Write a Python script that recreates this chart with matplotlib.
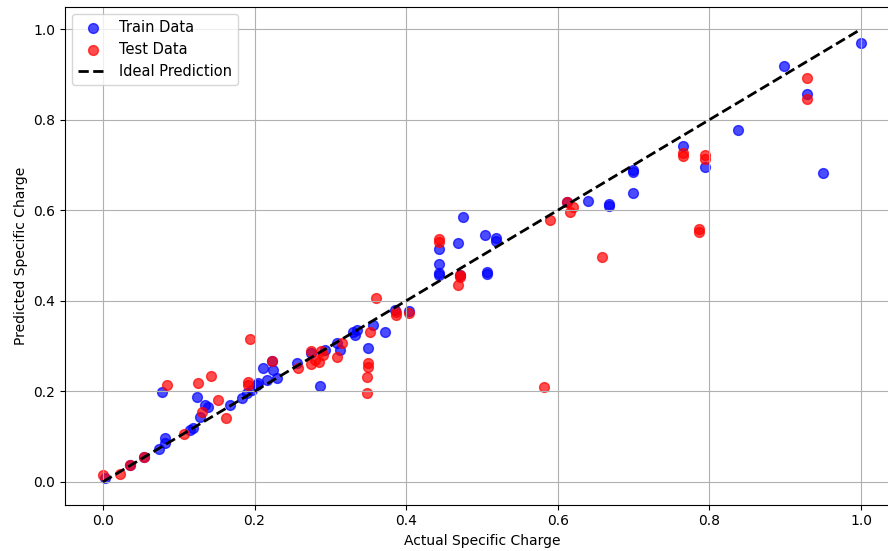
import numpy as np
import matplotlib
matplotlib.use('Agg')
import matplotlib.pyplot as plt

# train points (actual, predicted)
train_x = [0.003, 0.036, 0.054, 0.074, 0.082, 0.082, 0.115, 0.119, 0.078, 0.124,
           0.135, 0.139, 0.128, 0.168, 0.183, 0.19, 0.197, 0.204, 0.211, 0.224,
           0.23, 0.216, 0.203, 0.256, 0.286, 0.293, 0.309, 0.313, 0.33, 0.335,
           0.332, 0.356, 0.372, 0.35, 0.385, 0.404, 0.443, 0.443, 0.443, 0.443,
           0.468, 0.475, 0.471, 0.504, 0.506, 0.506, 0.518, 0.518, 0.612, 0.64,
           0.668, 0.668, 0.699, 0.699, 0.699, 0.765, 0.794, 0.838, 0.898, 0.929,
           0.95, 1.0, 0.275, 0.223]
train_y = [0.009, 0.037, 0.055, 0.073, 0.097, 0.086, 0.115, 0.119, 0.199, 0.188,
           0.17, 0.166, 0.143, 0.17, 0.185, 0.196, 0.203, 0.218, 0.252, 0.247,
           0.23, 0.225, 0.214, 0.263, 0.212, 0.291, 0.307, 0.291, 0.331, 0.336,
           0.325, 0.347, 0.331, 0.296, 0.38, 0.378, 0.514, 0.481, 0.457, 0.461,
           0.527, 0.585, 0.457, 0.545, 0.464, 0.459, 0.539, 0.532, 0.618, 0.62,
           0.614, 0.609, 0.689, 0.684, 0.638, 0.742, 0.695, 0.777, 0.918, 0.857,
           0.682, 0.969, 0.285, 0.267]

# test points
test_x = [0.0, 0.022, 0.036, 0.054, 0.107, 0.085, 0.125, 0.142, 0.131, 0.152,
          0.163, 0.191, 0.191, 0.194, 0.223, 0.257, 0.275, 0.28, 0.288, 0.29,
          0.285, 0.275, 0.309, 0.315, 0.352, 0.36, 0.35, 0.35, 0.348, 0.348,
          0.387, 0.387, 0.404, 0.443, 0.443, 0.471, 0.471, 0.468, 0.59, 0.582,
          0.616, 0.62, 0.612, 0.658, 0.765, 0.765, 0.794, 0.794, 0.786, 0.786,
          0.929, 0.929]
test_y = [0.015, 0.018, 0.037, 0.055, 0.106, 0.214, 0.219, 0.234, 0.155, 0.181,
          0.141, 0.22, 0.214, 0.316, 0.267, 0.252, 0.29, 0.27, 0.29, 0.28,
          0.265, 0.26, 0.276, 0.307, 0.331, 0.406, 0.263, 0.254, 0.232, 0.197,
          0.369, 0.375, 0.373, 0.536, 0.53, 0.457, 0.453, 0.435, 0.578, 0.21,
          0.596, 0.607, 0.618, 0.497, 0.726, 0.72, 0.722, 0.713, 0.558, 0.552,
          0.892, 0.846]

fig = plt.figure(figsize=(8.88, 5.51), dpi=100)
ax = fig.add_axes([65/888, 46.5/551, 834/888, 498/551])

ax.scatter(train_x, train_y, color='blue', alpha=0.7, s=50, label='Train Data')
ax.scatter(test_x, test_y, color='red', alpha=0.7, s=50, label='Test Data')
ax.plot([0, 1], [0, 1], 'k--', lw=2, label='Ideal Prediction')

ax.set_xlabel('Actual Specific Charge')
ax.set_ylabel('Predicted Specific Charge')
ax.legend(loc='upper left', fontsize=10.5)
ax.grid(True)

fig.savefig('out.png', dpi=100)
